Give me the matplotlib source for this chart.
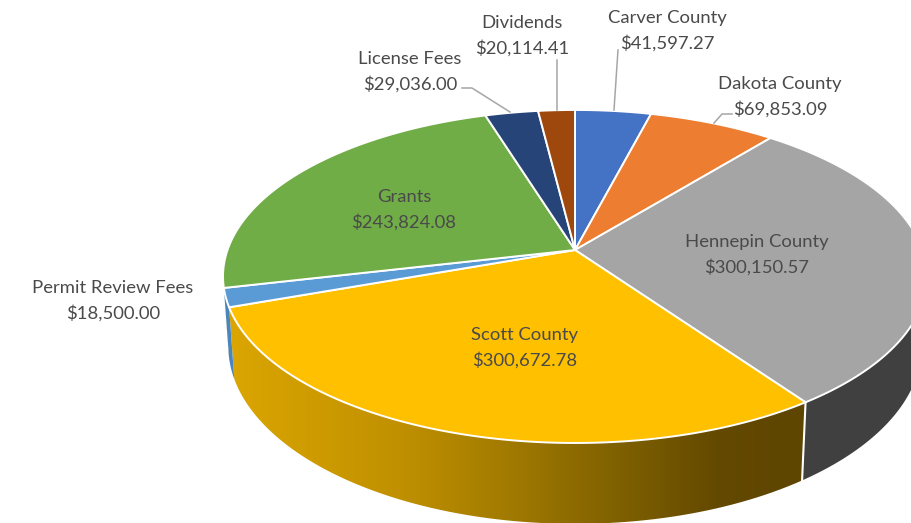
#!/usr/bin/env python3
"""
Revenue by source as a tilted 3D pie, drawn in pixel coordinates.
"""

import numpy as np
import matplotlib
matplotlib.use("Agg")
import matplotlib.pyplot as plt
from matplotlib.colors import LinearSegmentedColormap
from matplotlib.patches import Polygon

categories = ["Carver County", "Dakota County", "Hennepin County", "Scott County",
              "Permit Review Fees", "Grants", "License Fees", "Dividends"]
amounts = [41597.27, 69853.09, 300150.57, 300672.78, 18500.00, 243824.08, 29036.00, 20114.41]
top_colors = ["#4472C4", "#ED7D31", "#A5A5A5", "#FFC000",
              "#5B9BD5", "#70AD47", "#264478", "#9E480E"]
side_colors = ["#2F5597", "#AE5A21", "#404040", "#BF9000",
               "#4A86BD", "#538135", "#1B3057", "#6F320A"]

# label centres, (x, y) of the name line
label_pos = [(667, 18), (780, 84), (757, 242), (525, 335),
             (113, 288), (404, 197), (410, 59), (522, 23)]
# leader lines: License Fees, Dividends, Carver County, Dakota County
leaders = [[(462, 88), (472, 88), (510, 112)],
           [(557, 60), (557, 110)],
           [(618, 50), (614, 110)],
           [(732, 114), (722, 114), (714, 123)]]

# gradient on the Scott County wall
scott_x = [229, 400, 500, 620, 720, 806]
scott_c = ["#DBA602", "#C09000", "#A47C00", "#7F6000", "#634900", "#5E4500"]

CX, CY = 575, 250   # where the slices meet
A, B, K = 347.5, 162.3, 0.159   # perspective of the disc
DEPTH = 68
SHRINK = 0.985
TEXT = "#4A4A4A"


def rim(theta):
    """Top rim position relative to the centre, y up, for angles clockwise from 12 o'clock."""
    u, v = np.sin(theta), np.cos(theta)
    w = 1 + K * v
    return A * u / w, B * v / w, w


def wall_polygon(t0, t1):
    th = np.linspace(t0, t1, 80)
    x, y, w = rim(th)
    top = np.column_stack([CX + x, CY - y])
    bottom = np.column_stack([CX + x * SHRINK, CY - y + DEPTH / w])
    return np.vstack([top, bottom[::-1]])


plt.rcParams["font.family"] = ["Lato", "DejaVu Sans"]
fig = plt.figure(figsize=(9.12, 5.23), dpi=100)
ax = fig.add_axes([0, 0, 1, 1])

edges = np.concatenate([[0], np.cumsum(amounts)]) / np.sum(amounts) * 2 * np.pi
vis_start = np.arccos(-K)   # walls show between the two side extremes of the ellipse
vis_end = 2 * np.pi - vis_start

# walls first
for i, name in enumerate(categories):
    t0, t1 = max(edges[i], vis_start), min(edges[i + 1], vis_end)
    if t1 <= t0:
        continue
    poly = wall_polygon(t0, t1)
    if name == "Scott County":
        pos = (np.array(scott_x) - scott_x[0]) / (scott_x[-1] - scott_x[0])
        cmap = LinearSegmentedColormap.from_list("scott", list(zip(pos, scott_c)))
        patch = Polygon(poly, closed=True, facecolor="none", edgecolor="none")
        ax.add_patch(patch)
        img = ax.imshow(np.linspace(0, 1, 256).reshape(1, -1), cmap=cmap, aspect="auto",
                        extent=(scott_x[0], scott_x[-1], 530, 300), zorder=1)
        img.set_clip_path(patch)
    else:
        ax.fill(poly[:, 0], poly[:, 1], color=side_colors[i], lw=0, zorder=1)

# white seam between the two big walls
seam = wall_polygon(edges[3], edges[3] + 1e-4)
ax.plot([seam[0, 0], seam[-1, 0]], [seam[0, 1], seam[-1, 1]], color="white", lw=1.5, zorder=2)

# top of the pie
for i, name in enumerate(categories):
    th = np.linspace(edges[i], edges[i + 1], 120)
    x, y, _ = rim(th)
    px = np.concatenate([[CX], CX + x])
    py = np.concatenate([[CY], CY - y])
    ax.fill(px, py, facecolor=top_colors[i], edgecolor="white", lw=1.4, joinstyle="round", zorder=3)

for pts in leaders:
    xs, ys = zip(*pts)
    ax.plot(xs, ys, color="#A6A6A6", lw=1.1, zorder=4)

for name, val, (x, y) in zip(categories, amounts, label_pos):
    ax.text(x, y, name, ha="center", va="center", fontsize=13.3, color=TEXT, zorder=5)
    ax.text(x, y + 25, f"${val:,.2f}", ha="center", va="center", fontsize=13.3, color=TEXT, zorder=5)

ax.set_xlim(0, 912)
ax.set_ylim(523, 0)
ax.axis("off")

fig.savefig("out.png", dpi=100)
